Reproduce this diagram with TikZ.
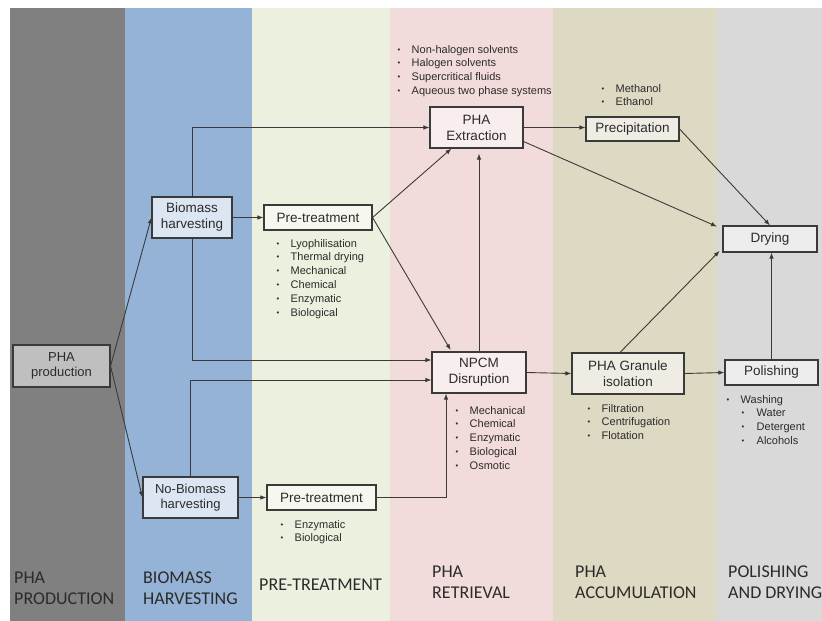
\documentclass[tikz,border=0pt]{standalone}
\usepackage{fontspec}
\setmainfont{Liberation Sans}
\newfontfamily\lanefont{Carlito}
\usetikzlibrary{arrows.meta,calc}
\definecolor{laneA}{HTML}{808080}
\definecolor{laneB}{HTML}{95B3D7}
\definecolor{laneC}{HTML}{EBF1DE}
\definecolor{laneD}{HTML}{F2DCDB}
\definecolor{laneE}{HTML}{DDD9C3}
\definecolor{laneF}{HTML}{D9D9D9}
\definecolor{fillA}{HTML}{BFBFBF}
\definecolor{fillB}{HTML}{DCE6F2}
\definecolor{fillC}{HTML}{F6F8F0}
\definecolor{fillD}{HTML}{F8EEEE}
\definecolor{fillE}{HTML}{EFEDE3}
\definecolor{fillF}{HTML}{EDEDED}
\definecolor{ink}{HTML}{2B2B2B}
\definecolor{edge}{HTML}{3A3A3A}
\newcommand{\dotmark}{\raisebox{1pt}{\scalebox{0.7}{\textbullet}}}
\newcommand{\bul}[1]{\makebox[14pt][l]{\dotmark}#1}
\newcommand{\subbul}[1]{\hspace*{15pt}\makebox[15pt][l]{\dotmark}#1}
\begin{document}
\begin{tikzpicture}[x=1pt,y=-1pt,
  box/.style={draw=edge,line width=1.1pt,inner sep=0pt,align=center,text=ink,
    font=\fontsize{13.5}{16}\selectfont},
  blist/.style={anchor=north west,inner sep=0pt,align=left,text=ink,
    font=\fontsize{11}{13.8}\selectfont},
  lanelbl/.style={anchor=west,inner sep=0pt,align=left,text=ink,
    font=\lanefont\fontsize{18}{21}\selectfont},
  conn/.style={draw=edge,line width=0.9pt,-{Latex[length=6pt,width=4.5pt]}}]
\useasboundingbox (0,0) rectangle (822,621);
\fill[white] (0,0) rectangle (822,621);
% lanes
\fill[laneA] (10,8) rectangle (125,621);
\fill[laneB] (125,8) rectangle (252,621);
\fill[laneC] (252,8) rectangle (390,621);
\fill[laneD] (390,8) rectangle (553,621);
\fill[laneE] (553,8) rectangle (717,621);
\fill[laneF] (717,8) rectangle (822,621);
% lane labels
\node[lanelbl] (lbA) at (14,588.5) {PHA\\PRODUCTION};
\node[lanelbl] (lbB) at (143,588.5) {BIOMASS\\HARVESTING};
\node[lanelbl] (lbC) at (259,585) {PRE-TREATMENT};
\node[lanelbl] (lbD) at (432,582.5) {PHA\\RETRIEVAL};
\node[lanelbl] (lbE) at (575,582.5) {PHA\\ACCUMULATION};
\node[lanelbl] (lbF) at (728,582.5) {POLISHING\\AND DRYING};
% boxes
\node[box,fill=fillA,minimum width=97pt,minimum height=42pt,font=\fontsize{13}{15}\selectfont] (prod) at (61.5,366) {PHA\\production};
\node[box,fill=fillB,minimum width=80pt,minimum height=41pt] (bio) at (192,217.5) {Biomass\\harvesting};
\node[box,fill=fillB,minimum width=95pt,minimum height=41pt,font=\fontsize{13}{15}\selectfont] (nobio) at (190.5,497.5) {No-Biomass\\harvesting};
\node[box,fill=fillC,minimum width=108pt,minimum height=25pt] (pt1) at (318,217.5) {Pre-treatment};
\node[box,fill=fillC,minimum width=109pt,minimum height=25pt] (pt2) at (321.5,497.5) {Pre-treatment};
\node[box,fill=fillD,minimum width=93pt,minimum height=41pt] (ext) at (476.5,127.5) {PHA\\Extraction};
\node[box,fill=fillD,minimum width=94pt,minimum height=41pt] (npcm) at (479,372.5) {NPCM\\Disruption};
\node[box,fill=fillE,minimum width=93pt,minimum height=24pt] (prec) at (632.5,129) {Precipitation};
\node[box,fill=fillE,minimum width=112pt,minimum height=41pt] (gran) at (628,373.5) {PHA Granule\\isolation};
\node[box,fill=fillF,minimum width=94pt,minimum height=26pt] (dry) at (770,239) {Drying};
\node[box,fill=fillF,minimum width=93pt,minimum height=25pt] (pol) at (771.5,372.5) {Polishing};
% bullet lists
\node[blist] (l1) at (276.5,239) {\bul{Lyophilisation}\\\bul{Thermal drying}\\\bul{Mechanical}\\\bul{Chemical}\\\bul{Enzymatic}\\\bul{Biological}};
\node[blist] (l2) at (280.5,520) {\bul{Enzymatic}\\\bul{Biological}};
\node[blist] (l3) at (397.5,45) {\bul{Non-halogen solvents}\\\bul{Halogen solvents}\\\bul{Supercritical fluids}\\\bul{Aqueous two phase systems}};
\node[blist] (l4) at (601.5,84) {\bul{Methanol}\\\bul{Ethanol}};
\node[blist] (l5) at (455.5,406) {\bul{Mechanical}\\\bul{Chemical}\\\bul{Enzymatic}\\\bul{Biological}\\\bul{Osmotic}};
\node[blist] (l6) at (587.5,404) {\bul{Filtration}\\\bul{Centrifugation}\\\bul{Flotation}};
\node[blist] (l7) at (726.5,395) {\bul{Washing}\\\subbul{Water}\\\subbul{Detergent}\\\subbul{Alcohols}};
% connectors
\draw[conn] (prod.east) -- (bio.west);
\draw[conn] (prod.east) -- (nobio.west);
\draw[conn] (bio.east) -- (pt1.west);
\draw[conn] (bio.north) |- (ext.west);
\draw[conn] (bio.south) |- ($(npcm.west)+(0,-12.5)$);
\draw[conn] (nobio.north) |- ($(npcm.west)+(0,7.5)$);
\draw[conn] (nobio.east) -- (pt2.west);
\draw[conn] (pt2.east) -| ($(npcm.south)+(-33,0)$);
\draw[conn] (pt1.east) -- ($(ext.south west)+(22,0)$);
\draw[conn,shorten >=1.5pt] (pt1.east) -- ($(npcm.north west)+(20,0)$);
\draw[conn,shorten >=5pt] (npcm.north) -- (npcm.north |- ext.south);
\draw[conn] (ext.east) -- (ext.east -| prec.west);
\draw[conn,shorten >=6pt] ($(ext.east)+(0,14)$) -- ($(dry.west)+(0,-10)$);
\draw[conn] (prec.east) -- (dry.north);
\draw[conn,shorten >=4pt] ($(gran.north)+(-8,0)$) -- ($(dry.west)+(0,9)$);
\draw[conn] (npcm.east) -- (gran.west);
\draw[conn] (gran.east) -- (pol.west);
\draw[conn] (pol.north) -- (pol.north |- dry.south);
\end{tikzpicture}
\end{document}
